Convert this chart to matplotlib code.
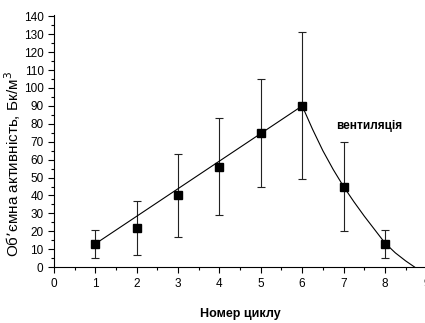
import matplotlib
matplotlib.use("Agg")
import matplotlib.pyplot as plt
from matplotlib.ticker import MultipleLocator

plt.rcParams['font.family'] = ['Liberation Sans', 'DejaVu Sans']

cycles = [1, 2, 3, 4, 5, 6, 7, 8]
activity = [13, 22, 40, 56, 75, 90, 45, 13]
err_low = [5, 7, 17, 29, 45, 49, 20, 5]
err_high = [21, 37, 63, 83, 105, 131, 70, 21]

lin_x = [1, 6]
lin_y = [13, 90]
dec_x = [6, 6.25, 6.5, 6.75, 7, 7.25, 7.5, 7.75, 8, 8.25, 8.5, 8.72]
dec_y = [90, 77, 65, 54.5, 45, 36.5, 28.5, 21, 13.5, 8, 3.5, 0]

fig = plt.figure(figsize=(4.25, 3.23), dpi=100)
ax = fig.add_axes([0.127, 0.173, 0.876, 0.782])

yerr = [[a - l for a, l in zip(activity, err_low)], [h - a for a, h in zip(activity, err_high)]]
ax.errorbar(cycles, activity, yerr=yerr, fmt='none', ecolor='#222222', elinewidth=0.8, capsize=3, capthick=0.8)
ax.plot(lin_x, lin_y, color='black', lw=0.8)
ax.plot(dec_x, dec_y, color='black', lw=0.8)
ax.plot(cycles, activity, 's', color='black', ms=5.5, zorder=5)

ax.text(7.62, 79, 'вентиляція', fontsize=8.5, fontweight='bold', ha='center', va='center')

ax.set_xlim(0, 9)
ax.set_ylim(0, 141)
ax.xaxis.set_major_locator(MultipleLocator(1))
ax.xaxis.set_minor_locator(MultipleLocator(0.5))
ax.yaxis.set_major_locator(MultipleLocator(10))
ax.yaxis.set_minor_locator(MultipleLocator(5))
ax.tick_params(which='major', direction='out', length=4, width=0.8, labelsize=8.5)
ax.tick_params(which='minor', direction='out', length=2.5, width=0.8)
ax.spines['top'].set_visible(False)
ax.spines['right'].set_visible(False)
ax.set_xlabel('Номер циклу', fontsize=9, fontweight='bold', labelpad=13)
ax.set_ylabel('Об\u2019ємна активність, Бк/м$^3$', fontsize=11)
ax.yaxis.set_label_coords(-0.084, 0.41)

fig.savefig('out.png', dpi=100)
